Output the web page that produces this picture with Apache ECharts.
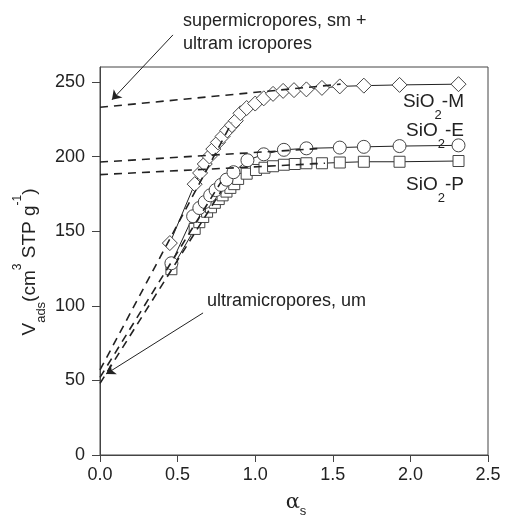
<!DOCTYPE html>
<html lang="en">
<head>
    <meta charset="UTF-8">
    <title>alpha-s plot</title>
    <style>
        html, body { margin: 0; padding: 0; background: #fff; }
    </style>
</head>
<body>
<div id="main" style="width:505px;height:517px"></div>
<script src="https://cdn.jsdelivr.net/npm/echarts@6/dist/echarts.min.js"></script>
<script type="text/javascript">

    // alpha-s values and adsorbed volumes
    var mAlpha = [0.45, 0.61, 0.645, 0.675, 0.705, 0.73, 0.76, 0.79, 0.82, 0.85, 0.875, 0.905, 0.945, 1.0, 1.055, 1.115, 1.18, 1.25, 1.33, 1.43, 1.545, 1.70, 1.93, 2.31];
    var mVads  = [142, 181.5, 189, 195, 200, 205, 209.5, 213.5, 217.5, 221, 224, 229, 232.5, 235.5, 239, 242, 244, 244.5, 245, 246, 247, 247.5, 248, 248.5];

    var eAlpha = [0.46, 0.60, 0.64, 0.675, 0.71, 0.745, 0.78, 0.815, 0.86, 0.95, 1.055, 1.185, 1.33, 1.545, 1.70, 1.93, 2.31];
    var eVads  = [128.5, 160, 165.5, 169.5, 174, 177.5, 181, 184.5, 189.5, 197.5, 201.5, 204.5, 205.5, 206, 206.5, 207, 207.5];

    var pAlpha = [0.46, 0.61, 0.64, 0.665, 0.69, 0.715, 0.74, 0.765, 0.79, 0.815, 0.84, 0.865, 0.89, 0.945, 1.005, 1.06, 1.115, 1.185, 1.255, 1.33, 1.43, 1.545, 1.70, 1.93, 2.31];
    var pVads  = [124.5, 151.5, 156, 159.5, 163, 166, 169, 171.5, 174, 176.5, 179, 181.5, 185, 188.5, 191, 192.5, 193.5, 194.5, 195, 195.5, 195.5, 196, 196.5, 196.5, 197];

    // dashed fit lines: [alpha start, V start, alpha end, V end]
    var mLow  = [0, 57, 0.85, 222.8];
    var eLow  = [0, 52, 0.78, 183];
    var pLow  = [0, 48, 0.78, 176.7];
    var mHigh = [0, 233, 1.55, 248.5];
    var eHigh = [0, 196.3, 1.4, 205.3];
    var pHigh = [0, 187.9, 1.45, 195.5];

    // annotation arrows in data units: [from alpha, from V, to alpha, to V]
    var arrowSm = [0.47, 281.5, 0.077, 238];
    var arrowUm = [0.664, 95.2, 0.039, 54.3];

    var xTicks = [0, 0.5, 1.0, 1.5, 2.0, 2.5];
    var yTicks = [0, 50, 100, 150, 200, 250];

    var FONT = 'Liberation Sans, Arial, sans-serif';
    var INK = '#222';

    function pairs(xs, ys) {
        var out = [];
        for (var i = 0; i < xs.length; i++) {
            out.push([xs[i], ys[i]]);
        }
        return out;
    }

    function seg(a) {
        return [[a[0], a[1]], [a[2], a[3]]];
    }

    function markerSeries(name, data, symbol, size) {
        return {
            name: name,
            type: 'line',
            data: data,
            symbol: symbol,
            symbolSize: size,
            showAllSymbol: true,
            lineStyle: {color: INK, width: 1},
            itemStyle: {color: '#fff', borderColor: '#444', borderWidth: 1},
            z: 3
        };
    }

    function dashSeries(a) {
        return {
            type: 'line',
            data: seg(a),
            showSymbol: false,
            symbol: 'none',
            lineStyle: {color: INK, width: 1.6, type: [8, 6]},
            z: 4
        };
    }

    var diamond = 'path://M0,-1L1,0L0,1L-1,0Z';

    var myChart = echarts.init(document.getElementById('main'));
    var option = {
        animation: false,
        backgroundColor: '#fff',
        grid: {
            left: 100, right: 17, top: 67, bottom: 62,
            show: true, borderColor: '#444', borderWidth: 1
        },
        xAxis: {
            type: 'value',
            min: 0, max: 2.5, interval: 0.5,
            axisLine: {lineStyle: {color: '#444'}},
            axisTick: {inside: false, length: 7, lineStyle: {color: '#444'}, customValues: xTicks},
            axisLabel: {
                customValues: xTicks,
                margin: 11,
                color: INK, fontFamily: FONT, fontSize: 18,
                formatter: function (v) { return v.toFixed(1); }
            },
            splitLine: {show: false}
        },
        yAxis: {
            type: 'value',
            min: 0, max: 260, interval: 50,
            axisLine: {show: true, lineStyle: {color: '#444'}},
            axisTick: {show: true, inside: false, length: 8, lineStyle: {color: '#444'}, customValues: yTicks},
            axisLabel: {
                customValues: yTicks,
                margin: 15,
                color: INK, fontFamily: FONT, fontSize: 18
            },
            splitLine: {show: false}
        },
        series: [
            markerSeries('SiO2-P', pairs(pAlpha, pVads), 'rect', 11),
            markerSeries('SiO2-E', pairs(eAlpha, eVads), 'circle', 13),
            markerSeries('SiO2-M', pairs(mAlpha, mVads), diamond, 15),
            dashSeries(mLow), dashSeries(eLow), dashSeries(pLow),
            dashSeries(mHigh), dashSeries(eHigh), dashSeries(pHigh),
            {
                type: 'lines',
                coordinateSystem: 'cartesian2d',
                clip: false,
                polyline: false,
                symbol: ['none', 'arrow'],
                symbolSize: 9,
                lineStyle: {color: INK, width: 1, opacity: 1},
                data: [{coords: seg(arrowSm)}, {coords: seg(arrowUm)}],
                z: 5
            }
        ],
        graphic: [
            {
                type: 'text', left: 183, top: 10,
                style: {
                    text: 'supermicropores, sm +\nultram icropores',
                    font: '18px ' + FONT, fill: INK, lineHeight: 23
                }
            },
            {
                type: 'text', left: 207, top: 292,
                style: {text: 'ultramicropores, um', font: '18px ' + FONT, fill: INK}
            },
            sioLabel('M', 102),
            sioLabel('E', 131),
            sioLabel('P', 185),
            {
                type: 'text', x: 30, y: 262, rotation: Math.PI / 2,
                style: {
                    text: '{b|V}{s|ads}{b|(cm}{p|3}{b| STP g}{p|-1}{b|)}',
                    align: 'center', verticalAlign: 'middle', fill: INK,
                    rich: {
                        b: {fontFamily: FONT, fontSize: 19, lineHeight: 36, fill: INK},
                        s: {fontFamily: FONT, fontSize: 13, lineHeight: 13, verticalAlign: 'bottom', fill: INK},
                        p: {fontFamily: FONT, fontSize: 12, lineHeight: 12, verticalAlign: 'top', fill: INK}
                    }
                }
            },
            {
                type: 'text', x: 296, y: 503,
                style: {
                    text: '{b|\u03b1}{s|s}',
                    align: 'center', verticalAlign: 'middle', fill: INK,
                    rich: {
                        b: {fontFamily: 'DejaVu Serif, serif', fontSize: 21, lineHeight: 30, fill: INK},
                        s: {fontFamily: FONT, fontSize: 13, lineHeight: 13, verticalAlign: 'bottom', fill: INK}
                    }
                }
            }
        ]
    };

    function sioLabel(tag, y) {
        return {
            type: 'text', x: 464, y: y,
            style: {
                text: '{b|SiO}{s|2}{b|-' + tag + '}',
                align: 'right', verticalAlign: 'middle', fill: INK,
                rich: {
                    b: {fontFamily: FONT, fontSize: 19, lineHeight: 40, fill: INK},
                    s: {fontFamily: FONT, fontSize: 13, lineHeight: 13, verticalAlign: 'bottom', fill: INK}
                }
            }
        };
    }

    myChart.setOption(option);
</script>
</body>
</html>
